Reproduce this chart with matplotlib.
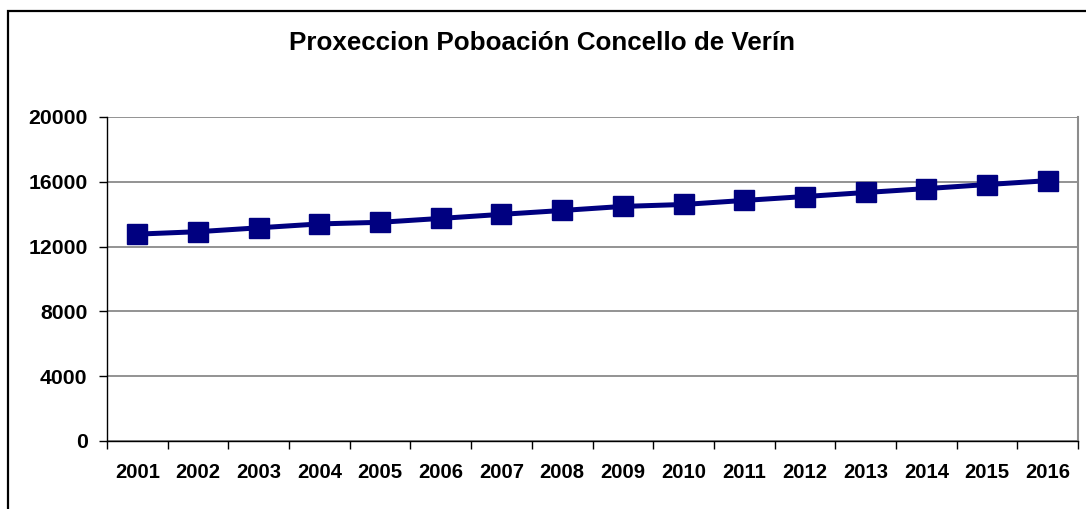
import matplotlib
matplotlib.use("Agg")
import matplotlib.pyplot as plt
import matplotlib.patches as patches
from matplotlib.ticker import FixedLocator, NullFormatter

years = ["2001", "2002", "2003", "2004", "2005", "2006", "2007", "2008",
         "2009", "2010", "2011", "2012", "2013", "2014", "2015", "2016"]
population = [12770, 12920, 13160, 13400, 13500, 13740, 13990, 14230,
              14480, 14600, 14850, 15090, 15340, 15580, 15830, 16070]
y_ticks = [0, 4000, 8000, 12000, 16000, 20000]
title = "Proxeccion Poboación Concello de Verín"

W, H = 1086, 509
fig = plt.figure(figsize=(W / 100, H / 100), dpi=100)
plt.rcParams['font.family'] = ['Liberation Sans', 'DejaVu Sans']

ax = fig.add_axes([107 / W, (H - 441) / H, (1078 - 107) / W, (441 - 117) / H])

x = list(range(len(years)))
ax.plot(x, population, color="#000080", lw=3.6, marker="s", ms=14.4,
        mec="#000080", mfc="#000080", zorder=3, clip_on=False)

ax.set_xlim(-0.5, len(years) - 0.5)
ax.set_ylim(0, 20000)
ax.set_yticks(y_ticks)
ax.set_yticklabels([str(v) for v in y_ticks], fontsize=15.3, fontweight="bold")
ax.set_xticks(x)
ax.set_xticklabels(years, fontsize=14.6, fontweight="bold")
ax.xaxis.set_minor_locator(FixedLocator([i - 0.5 for i in range(len(years) + 1)]))
ax.xaxis.set_minor_formatter(NullFormatter())
ax.tick_params(axis="x", which="major", length=0, pad=16)
ax.tick_params(axis="x", which="minor", length=6, width=1, color="black", direction="out")
ax.tick_params(axis="y", length=6, width=1, color="black", direction="out", pad=8)

ax.yaxis.grid(True, color="#808080", lw=1.2)
ax.set_axisbelow(True)
ax.spines["top"].set_visible(False)
ax.spines["right"].set_color("#8c8c8c")
ax.spines["right"].set_linewidth(1.5)
ax.spines["left"].set_color("black")
ax.spines["bottom"].set_color("black")
ax.spines["left"].set_linewidth(1)
ax.spines["bottom"].set_linewidth(1)

fig.text(542 / W, 1 - 43 / H, title, ha="center", va="center",
         fontsize=18.7, fontweight="bold")

border = patches.Rectangle((7.5 / W, -0.1), 1.2, 1 - 10.5 / H + 0.1,
                           transform=fig.transFigure, fill=False,
                           edgecolor="black", lw=1.6, clip_on=False)
fig.patches.append(border)

fig.savefig("out.png", dpi=100)
